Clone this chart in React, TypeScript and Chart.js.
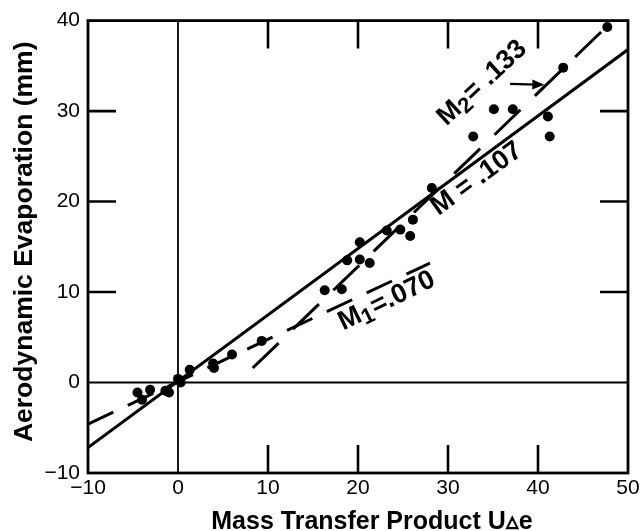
import React, { useEffect, useRef } from "react";
import { Chart, registerables } from "chart.js";

Chart.register(...registerables);

const X_MIN = -10;
const X_MAX = 50;
const Y_MIN = -10;
const Y_MAX = 40;
const INNER_TICKS_X = [10, 20, 30, 40];
const INNER_TICKS_Y = [10, 20, 30];

// observed points
const obsX = [-4.5, -4.0, -3.1, -1.4, -1.0, 0.0, 0.3, 1.3, 3.9, 4.0, 6.0, 9.3, 16.3, 18.2, 18.8, 20.2, 20.2, 21.3, 23.2, 24.7, 25.8, 26.1, 28.2, 32.8, 35.1, 37.2, 41.1, 41.3, 42.8, 47.7];
const obsY = [-1.1, -1.9, -0.8, -0.9, -1.1, 0.4, 0.0, 1.4, 2.1, 1.6, 3.1, 4.6, 10.2, 10.3, 13.5, 15.5, 13.6, 13.2, 16.8, 16.9, 16.2, 18.0, 21.5, 27.2, 30.2, 30.2, 29.4, 27.2, 34.8, 39.3];

// fitted lines
const fitMX = [-10, 50];
const fitMY = [-7.2, 36.8];
const fitM1X = [-10, 28];
const fitM1Y = [-4.6, 13.2];
const fitM2X = [8.3, 47.7];
const fitM2Y = [1.6, 39.4];

const X_TITLE = "Mass Transfer Product U\u25B5e";
const Y_TITLE = "Aerodynamic Evaporation (mm)";

const LINE_LABELS = [
  { main: "M", sub: "2", rest: "= .133", x: 33.8, y: 33.1, angle: -43 },
  { main: "M", sub: "", rest: " = .107", x: 33.2, y: 22.5, angle: -36 },
  { main: "M", sub: "1", rest: "=.070", x: 23.2, y: 9.0, angle: -26 },
];
const ARROW_X = [36.9, 40.7];
const ARROW_Y = [33.0, 32.9];

const FONT = '"Liberation Sans", Arial, Helvetica, sans-serif';

const toPts = (xs: number[], ys: number[]) => xs.map((x, i) => ({ x, y: ys[i] }));
const fmt = (v: number) => (v < 0 ? "\u2212" + Math.abs(v) : String(v));

const framePlugin = {
  id: "frame",
  beforeDatasetsDraw(chart: any) {
    const { ctx, chartArea: a, scales } = chart;
    const sx = scales.x, sy = scales.y;
    ctx.save();
    ctx.strokeStyle = "#000";
    ctx.lineWidth = 1.8;
    ctx.beginPath();
    const x0 = sx.getPixelForValue(0);
    const y0 = sy.getPixelForValue(0);
    ctx.moveTo(x0, a.top);
    ctx.lineTo(x0, a.bottom);
    ctx.moveTo(a.left, y0);
    ctx.lineTo(a.right, y0);
    ctx.stroke();
    const tl = 28;
    ctx.lineWidth = 2.6;
    ctx.beginPath();
    INNER_TICKS_X.forEach((v) => {
      const p = sx.getPixelForValue(v);
      ctx.moveTo(p, a.bottom);
      ctx.lineTo(p, a.bottom - tl);
      ctx.moveTo(p, a.top);
      ctx.lineTo(p, a.top + tl);
    });
    INNER_TICKS_Y.forEach((v) => {
      const p = sy.getPixelForValue(v);
      ctx.moveTo(a.left, p);
      ctx.lineTo(a.left + tl, p);
      ctx.moveTo(a.right, p);
      ctx.lineTo(a.right - tl, p);
    });
    ctx.stroke();
    ctx.lineWidth = 2.8;
    ctx.strokeRect(a.left, a.top, a.right - a.left, a.bottom - a.top);
    ctx.restore();
  },
  afterDatasetsDraw(chart: any) {
    const { ctx, chartArea: a, scales } = chart;
    const sx = scales.x, sy = scales.y;
    ctx.save();
    ctx.fillStyle = "#000";
    ctx.strokeStyle = "#000";
    LINE_LABELS.forEach((l) => {
      const px = sx.getPixelForValue(l.x);
      const py = sy.getPixelForValue(l.y);
      const big = "bold 27px " + FONT;
      const small = "bold 22px " + FONT;
      ctx.font = big;
      const wm = ctx.measureText(l.main).width;
      const wr = ctx.measureText(l.rest).width;
      ctx.font = small;
      const ws = l.sub ? ctx.measureText(l.sub).width + 1 : 0;
      const total = wm + ws + wr;
      ctx.save();
      ctx.translate(px, py);
      ctx.rotate((l.angle * Math.PI) / 180);
      ctx.textBaseline = "middle";
      ctx.textAlign = "left";
      let cx = -total / 2;
      ctx.font = big;
      ctx.fillText(l.main, cx, 0);
      cx += wm;
      if (l.sub) {
        ctx.font = small;
        ctx.fillText(l.sub, cx, 6);
        cx += ws;
      }
      ctx.font = big;
      ctx.fillText(l.rest, cx, 0);
      ctx.restore();
    });
    const ax0 = sx.getPixelForValue(ARROW_X[0]);
    const ay0 = sy.getPixelForValue(ARROW_Y[0]);
    const ax1 = sx.getPixelForValue(ARROW_X[1]);
    const ay1 = sy.getPixelForValue(ARROW_Y[1]);
    const ang = Math.atan2(ay1 - ay0, ax1 - ax0);
    ctx.lineWidth = 2.2;
    ctx.beginPath();
    ctx.moveTo(ax0, ay0);
    ctx.lineTo(ax1 - 8 * Math.cos(ang), ay1 - 8 * Math.sin(ang));
    ctx.stroke();
    ctx.beginPath();
    ctx.moveTo(ax1, ay1);
    ctx.lineTo(ax1 - 12 * Math.cos(ang) + 5 * Math.sin(ang), ay1 - 12 * Math.sin(ang) - 5 * Math.cos(ang));
    ctx.lineTo(ax1 - 12 * Math.cos(ang) - 5 * Math.sin(ang), ay1 - 12 * Math.sin(ang) + 5 * Math.cos(ang));
    ctx.closePath();
    ctx.fill();
    ctx.textAlign = "center";
    ctx.textBaseline = "alphabetic";
    ctx.font = "bold 25px " + FONT;
    ctx.fillText(X_TITLE, (a.left + a.right) / 2 + 14, 529);
    ctx.save();
    ctx.font = "bold 26.5px " + FONT;
    ctx.translate(32, (a.top + a.bottom) / 2 - 5);
    ctx.rotate(-Math.PI / 2);
    ctx.fillText(Y_TITLE, 0, 0);
    ctx.restore();
    ctx.restore();
  },
};

export default function App() {
  const ref = useRef<HTMLCanvasElement | null>(null);
  useEffect(() => {
    if (!ref.current) return;
    const lineDs = (xs: number[], ys: number[], dash: number[]) => ({
      type: "scatter" as const,
      data: toPts(xs, ys),
      showLine: true,
      borderColor: "#000",
      backgroundColor: "#000",
      borderWidth: 3,
      borderDash: dash,
      pointRadius: 0,
      pointHoverRadius: 0,
    });
    const chart = new Chart(ref.current, {
      type: "scatter",
      data: {
        datasets: [
          lineDs(fitMX, fitMY, []),
          lineDs(fitM1X, fitM1Y, [28, 16]),
          lineDs(fitM2X, fitM2Y, [36, 20]),
          {
            data: toPts(obsX, obsY),
            backgroundColor: "#000",
            borderColor: "#000",
            pointRadius: 5,
            pointBorderWidth: 0,
          },
        ],
      },
      options: {
        animation: false,
        responsive: false,
        events: [],
        layout: { padding: { top: 20, right: 15, left: 0, bottom: 0 } },
        plugins: { legend: { display: false }, tooltip: { enabled: false } },
        scales: {
          x: {
            type: "linear",
            min: X_MIN,
            max: X_MAX,
            grid: { display: false, drawTicks: false },
            border: { display: false },
            ticks: {
              stepSize: 10,
              color: "#000",
              padding: 3,
              font: { family: FONT, size: 21 },
              callback: (v: any) => fmt(Number(v)),
            },
            afterFit: (s: any) => {
              s.height = 58;
            },
          },
          y: {
            type: "linear",
            min: Y_MIN,
            max: Y_MAX,
            grid: { display: false, drawTicks: false },
            border: { display: false },
            ticks: {
              stepSize: 10,
              color: "#000",
              padding: 8,
              font: { family: FONT, size: 21 },
              callback: (v: any) => fmt(Number(v)),
            },
            afterFit: (s: any) => {
              s.width = 88;
            },
          },
        },
      },
      plugins: [framePlugin],
    } as any);
    return () => chart.destroy();
  }, []);
  return (
    <div style={{ position: "absolute", left: 0, top: 0, width: 643, height: 531, background: "#fff" }}>
      <canvas ref={ref} width={643} height={531} style={{ width: 643, height: 531, display: "block" }} />
    </div>
  );
}
